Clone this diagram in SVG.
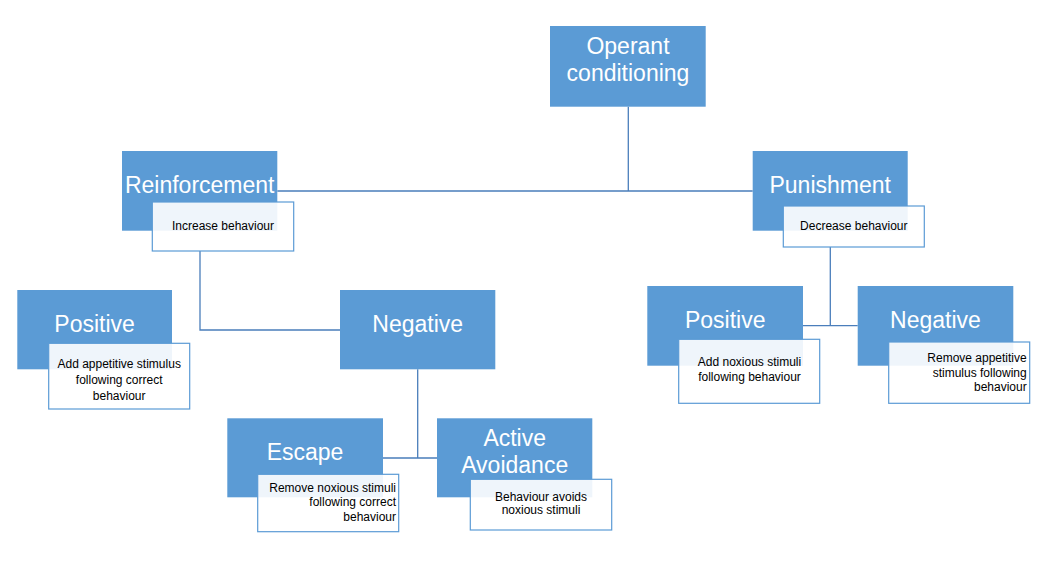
<svg xmlns="http://www.w3.org/2000/svg" width="1053" height="567" viewBox="0 0 1053 567">
<style>
.box{fill:#5B9BD5;}
.sub{fill:#ffffff;fill-opacity:0.9;stroke:#5B9BD5;stroke-width:1.2;}
.t{font-family:"Liberation Sans",Arial,sans-serif;font-size:23px;fill:#ffffff;text-anchor:middle;}
.s{font-family:"Liberation Sans",Arial,sans-serif;font-size:12px;fill:#000000;text-anchor:middle;}
.r{text-anchor:end;}
.c{fill:none;stroke:#4A7EBB;stroke-width:1.3;}
</style>
<rect width="1053" height="567" fill="#ffffff"/>
<g id="connectors">
<path class="c" d="M628.3,106.7 V191 M277.3,191 H752.7"/>
<path class="c" d="M200,251 V330 H340"/>
<path class="c" d="M417.7,369.3 V458 M383,458 H437"/>
<path class="c" d="M830.3,247 V325.7 M803,325.7 H857.7"/>
</g>
<g id="operant">
<rect class="box" x="550" y="26" width="155.7" height="80.7"/>
<text class="t" x="628" y="53.5">Operant</text>
<text class="t" x="628" y="81">conditioning</text>
</g>
<g id="reinforcement">
<rect class="box" x="122" y="151" width="155.3" height="79.7"/>
<text class="t" x="199.7" y="193.3">Reinforcement</text>
<rect class="sub" x="152.3" y="202" width="141.4" height="49"/>
<text class="s" x="223" y="230">Increase behaviour</text>
</g>
<g id="punishment">
<rect class="box" x="752.7" y="151" width="155" height="79.7"/>
<text class="t" x="830.2" y="192.7">Punishment</text>
<rect class="sub" x="783.3" y="206" width="141" height="41"/>
<text class="s" x="853.8" y="230">Decrease behaviour</text>
</g>
<g id="r-positive">
<rect class="box" x="17.3" y="290" width="154.7" height="79.3"/>
<text class="t" x="94.6" y="332">Positive</text>
<rect class="sub" x="48.7" y="343.3" width="141" height="65.7"/>
<text class="s" x="119.2" y="368.3">Add appetitive stimulus</text>
<text class="s" x="119.2" y="384">following correct</text>
<text class="s" x="119.2" y="399.5">behaviour</text>
</g>
<g id="r-negative">
<rect class="box" x="340" y="290" width="155.3" height="79.3"/>
<text class="t" x="417.7" y="332">Negative</text>
</g>
<g id="escape">
<rect class="box" x="227.3" y="418.3" width="155.7" height="79"/>
<text class="t" x="305" y="459.5">Escape</text>
<rect class="sub" x="257.7" y="474.3" width="141" height="57.4"/>
<text class="s r" x="396" y="492.3">Remove noxious stimuli</text>
<text class="s r" x="396" y="505.8">following correct</text>
<text class="s r" x="396" y="520.7">behaviour</text>
</g>
<g id="active-avoidance">
<rect class="box" x="437" y="418.3" width="155.3" height="79"/>
<text class="t" x="514.7" y="446">Active</text>
<text class="t" x="514.7" y="473">Avoidance</text>
<rect class="sub" x="470.3" y="479.3" width="141.4" height="50.7"/>
<text class="s" x="541" y="500.7">Behaviour avoids</text>
<text class="s" x="541" y="514.2">noxious stimuli</text>
</g>
<g id="p-positive">
<rect class="box" x="647.3" y="286" width="155.7" height="79.7"/>
<text class="t" x="725.2" y="328">Positive</text>
<rect class="sub" x="678.7" y="339.3" width="141" height="64"/>
<text class="s" x="749.5" y="366">Add noxious stimuli</text>
<text class="s" x="749.5" y="380.7">following behaviour</text>
</g>
<g id="p-negative">
<rect class="box" x="857.7" y="286" width="155.6" height="79.7"/>
<text class="t" x="935.5" y="328">Negative</text>
<rect class="sub" x="888.7" y="342" width="141" height="61.3"/>
<text class="s r" x="1026.7" y="362.3">Remove appetitive</text>
<text class="s r" x="1026.7" y="376.7">stimulus following</text>
<text class="s r" x="1026.7" y="391">behaviour</text>
</g>
</svg>
